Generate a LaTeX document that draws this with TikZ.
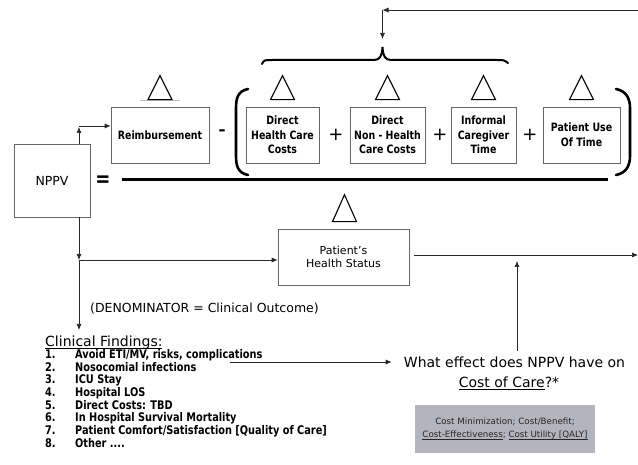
\documentclass[tikz,border=0pt]{standalone}
\usepackage{fontspec}
\setmainfont{DejaVu Sans}[BoldFeatures={FakeStretch=0.82}]
\usetikzlibrary{arrows.meta,calc}
\definecolor{boxgray}{RGB}{180,180,190}
\newcommand\myul[1]{$\underline{\vphantom{x}\smash{\hbox{#1}}}$}
\tikzset{
  box/.style={draw=black!60, line width=0.7pt, inner sep=0pt, align=center,
    font=\fontsize{11.5}{14.7}\selectfont\bfseries},
  conn/.style={draw=black!85, line width=0.7pt},
  tip/.style={-{Latex[length=6pt,width=5pt]}},
  tri/.style={draw=black, line width=1.1pt, line join=miter},
  paren/.style={draw=black, line width=2.6pt, line cap=round},
  bigsign/.style={inner sep=0pt, font=\fontsize{18}{18}\selectfont},
}
\begin{document}
\begin{tikzpicture}[x=1pt,y=-1pt]
\useasboundingbox (0,0) rectangle (638,465);

% boxes
\node[box, minimum width=76pt, minimum height=73pt, font=\fontsize{12.5}{14}\selectfont] (nppv) at (52,180.5) {NPPV};
\node[box, minimum width=98pt, minimum height=56pt] (reimb) at (160,135) {Reimbursement};
\node[box, minimum width=73pt, minimum height=56pt] (dhc) at (282.5,135) {Direct\\Health Care\\Costs};
\node[box, minimum width=75pt, minimum height=56pt] (dnhc) at (387.5,135) {Direct\\Non - Health\\Care Costs};
\node[box, minimum width=65pt, minimum height=56pt] (icg) at (483.5,135) {Informal\\Caregiver\\Time};
\node[box, minimum width=77pt, minimum height=56pt] (put) at (581.5,135) {Patient Use\\Of Time};
\node[box, minimum width=131pt, minimum height=56pt, font=\fontsize{11}{13}\selectfont] (phs) at (343.5,257) {Patient’s\\Health Status};

% signs
\node[bigsign, font=\fontsize{22}{22}\selectfont\bfseries] (eq) at (103,181.5) {=};
\node[inner sep=0pt, font=\fontsize{17}{17}\selectfont\bfseries] (minus) at (222,133) {–};
\node[bigsign] (p1) at (336,135) {+};
\node[bigsign] (p2) at (440,135) {+};
\node[bigsign] (p3) at (530,135) {+};

% triangles
\draw[gray!50, line width=0.6pt] (140,100) -- (180,100);
\foreach \b in {reimb,dhc,dnhc,icg,put}{
  \draw[tri] ($(\b.north)+(-12,-7)$) -- ++(12,-24) -- ++(12,24) -- cycle;
}
\draw[tri] ($(phs.north)+(-11,-7)$) -- ++(12,-27) -- ++(12,27) -- cycle;

% parentheses
\draw[paren] (248,89) .. controls (238,91) and (236,98) .. (236,108) -- (236,156) .. controls (236,166) and (238,173) .. (248,175);
\draw[paren] (616,89) .. controls (626,91) and (630,98) .. (630,108) -- (630,156) .. controls (630,166) and (626,173) .. (616,175);

% fraction bar
\draw[line width=3pt] (122,180) -- (608,180);

% brace
\draw[line width=2pt, line cap=round] (262,64) .. controls (264,60) .. (273,60) -- (374,60)
  .. controls (380,60) and (382,56) .. (382.5,47) .. controls (383,56) and (385,60) .. (391,60)
  -- (496,60) .. controls (504,60) .. (508,63);

% top feedback arrow
\coordinate (top1) at (638,10);
\coordinate (c7) at (382.5,10);
\coordinate (bt) at (382.5,47);
\draw[conn, tip] (top1) -- (c7);
\draw[conn, tip, shorten >=8pt] (c7) -- (bt);

% NPPV -> Reimbursement
\coordinate (c1) at (79,126);
\draw[conn, tip] (nppv.north -| c1) -- ([yshift=-1pt]c1);
\draw[conn, tip] (c1) -- (reimb.west |- c1);

% NPPV -> Patient's health status and down
\coordinate (c2) at (79,260);
\coordinate (c3) at (79,330);
\draw[conn, tip] (nppv.south -| c2) -- (c2);
\draw[conn, tip] (c2) -- (phs.west |- c2);
\draw[conn, tip] (c2) -- (c3);

% PHS -> right
\coordinate (c4) at (638,255);
\draw[conn, tip] ([xshift=5pt]phs.east |- c4) -- (c4);

% texts
\node[anchor=west, inner sep=0pt, font=\fontsize{12.5}{14}\selectfont] (denom) at (90,308.5) {(DENOMINATOR = Clinical Outcome)};

\node[anchor=base west, inner sep=0pt, font=\fontsize{14}{16}\selectfont] (cf) at (45,347) {\myul{Clinical Findings:}};
\node[anchor=north west, inner sep=0pt, font=\fontsize{11.9}{12}\selectfont\bfseries] (list) at (45,349.6) {%
\begin{tabular}{@{}p{30pt}@{}l@{}}
1. & Avoid ETI/MV, risks, complications\\
2. & Nosocomial infections\\
3. & ICU Stay\\
4. & Hospital LOS\\
5. & Direct Costs: TBD\\
6. & In Hospital Survival Mortality\\
7. & Patient Comfort/Satisfaction [Quality of Care]\\
8. & Other ....
\end{tabular}};

\node[anchor=base, inner sep=2pt, font=\fontsize{14}{16}\selectfont] (q1) at (514.5,367) {What effect does NPPV have on};
\node[anchor=base, inner sep=2pt, font=\fontsize{14}{16}\selectfont] (q2) at (509,388) {\myul{Cost of Care}?*};

\coordinate (c5) at (517,261);
\draw[conn, tip, shorten <=3pt] (q1.north -| c5) -- (c5);
\coordinate (c6) at (230,362);
\draw[conn, tip] (c6) -- ([xshift=-10pt]q1.west |- c6);

\node[fill=boxgray, minimum width=180pt, minimum height=48pt, inner sep=0pt, align=center,
  font=\fontsize{8.7}{13}\selectfont, text=black!85] (cost) at (505,429)
  {Cost Minimization; Cost/Benefit;\\\myul{Cost-Effectiveness}; \myul{Cost Utility [QALY]}};
\end{tikzpicture}
\end{document}
